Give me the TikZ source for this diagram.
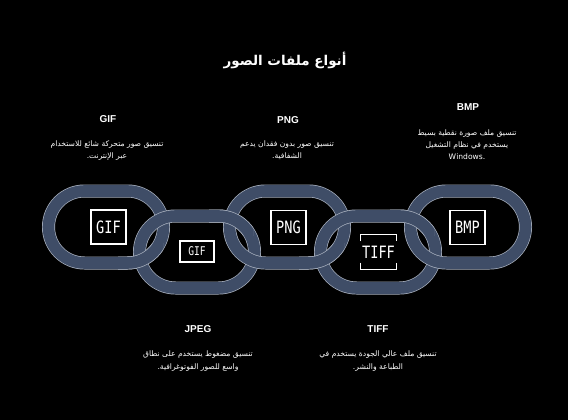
\documentclass[tikz,border=0pt]{standalone}
\usepackage{fontspec}
\setmainfont{Liberation Sans}
\newfontfamily\arabicfont[Script=Arabic]{DejaVu Sans}
\newfontfamily\iconfont[FakeStretch=0.8]{DejaVu Sans Mono}
\TeXXeTstate=1
\usetikzlibrary{positioning}

\definecolor{linkslate}{HTML}{3F4D67}
\definecolor{linkedge}{HTML}{A9B1BF}

\tikzset{
  linkrim/.style={draw=linkedge, line width=13pt, rounded corners=36pt},
  linkbody/.style={draw=linkslate, line width=11.6pt, rounded corners=36pt},
  iconbox/.style={draw=white, line width=1.2pt, text=white, inner sep=0pt,
       minimum width=35pt, minimum height=34pt,
       font=\iconfont\fontsize{17}{17}\selectfont},
  iconsmall/.style={iconbox, minimum width=34pt, minimum height=21pt,
       font=\iconfont\fontsize{12}{12}\selectfont},
  iconline/.style={draw=white, line width=1.2pt},
  kindhead/.style={text=white, font=\bfseries\fontsize{10}{12}\selectfont},
  kinddesc/.style={text=white, align=center,
       font=\arabicfont\fontsize{7.6}{12.3}\selectfont},
}

% one stadium shaped link, centre x y
\newcommand{\chainlink}[2]{%
  \draw[linkrim] (#1-57.5,#2-36) rectangle (#1+57.5,#2+36);
  \draw[linkbody] (#1-57.5,#2-36) rectangle (#1+57.5,#2+36);
}

\begin{document}
\begin{tikzpicture}[x=1pt, y=-1pt]

\fill[black] (0,0) rectangle (568,420);
\useasboundingbox (0,0) rectangle (568,420);

% title
\node[text=white, font=\arabicfont\bfseries\fontsize{13.5}{15}\selectfont]
  (title) at (285,60) {\beginR أنواع ملفات الصور\endR};

% the chain
\chainlink{106}{227}
\chainlink{197}{252}
\chainlink{287}{227}
\chainlink{378}{252}
\chainlink{468}{227}

% interlocking: upper link in front at the lower crossing
\begin{scope}
  \clip (118,243) rectangle (163,282);
  \chainlink{106}{227}
\end{scope}
\begin{scope}
  \clip (299,243) rectangle (344,282);
  \chainlink{287}{227}
\end{scope}
% lower link in front at the upper crossing
\begin{scope}
  \clip (209,198) rectangle (253,235);
  \chainlink{197}{252}
\end{scope}
\begin{scope}
  \clip (390,198) rectangle (434,235);
  \chainlink{378}{252}
\end{scope}

% icons
\node[iconbox] (gificon) at (108.5,227) {GIF};
\node[iconsmall] (gifsmall) at (197,251.5) {GIF};
\node[iconbox] (pngicon) at (288.5,227.5) {PNG};
\node[iconbox, draw=none, minimum height=34pt] (tifficon) at (378.5,252) {TIFF};
\draw[iconline] ([yshift=-7pt]tifficon.north west) -- (tifficon.north west)
  -- (tifficon.north east) -- ([yshift=-7pt]tifficon.north east);
\draw[iconline] ([yshift=7pt]tifficon.south west) -- (tifficon.south west)
  -- (tifficon.south east) -- ([yshift=7pt]tifficon.south east);
\node[iconbox] (bmpicon) at (467.5,227.5) {BMP};

% labels above
\node[kindhead] (gifhead) at (108,119.5) {GIF};
\node[kinddesc] (gifdesc) at (107,150.5)
  {\beginR تنسيق صور متحركة شائع للاستخدام\endR\\\beginR عبر الإنترنت.\endR};

\node[kindhead] (pnghead) at (288,120) {PNG};
\node[kinddesc] (pngdesc) at (287,150.5)
  {\beginR تنسيق صور بدون فقدان يدعم\endR\\\beginR الشفافية.\endR};

\node[kindhead] (bmphead) at (468,107.5) {BMP};
\node[kinddesc] (bmpdesc) at (467,144.5)
  {\beginR تنسيق ملف صورة نقطية بسيط\endR\\\beginR يستخدم في نظام التشغيل\endR\\Windows.};

% labels below
\node[kindhead] (jpeghead) at (198,329.5) {JPEG};
\node[kinddesc] (jpegdesc) at (198,361)
  {\beginR تنسيق مضغوط يستخدم على نطاق\endR\\\beginR واسع للصور الفوتوغرافية.\endR};

\node[kindhead] (tiffhead) at (378,329.5) {TIFF};
\node[kinddesc] (tiffdesc) at (378,361)
  {\beginR تنسيق ملف عالي الجودة يستخدم في\endR\\\beginR الطباعة والنشر.\endR};

\end{tikzpicture}
\end{document}
